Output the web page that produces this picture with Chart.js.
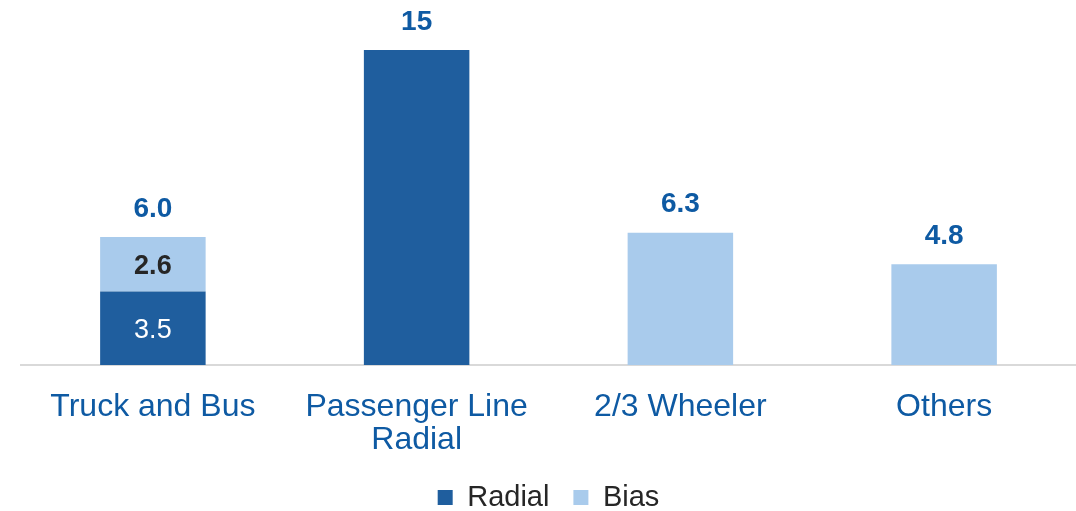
<!DOCTYPE html>
<html>
<head>
<meta charset="utf-8">
<script src="https://cdn.jsdelivr.net/npm/chart.js@4"></script>
<style>
html,body{margin:0;padding:0;background:#fff;}
#wrap{width:1076px;height:511px;position:relative;}
</style>
</head>
<body>
<div id="wrap"><canvas id="c" width="1076" height="511"></canvas></div>
<script>
const categories = ["Truck and Bus", ["Passenger Line", "Radial"], "2/3 Wheeler", "Others"];
const radialValues = [3.5, 15, 0, 0];
const biasValues = [2.6, 0, 6.3, 4.8];
const totalLabels = ["6.0", "15", "6.3", "4.8"];

const DARK = "#1F5E9E";
const LIGHT = "#A9CBEC";
const BLUE_TEXT = "#0E5AA3";
const FONT = "'Liberation Sans', Arial, sans-serif";

const labelPlugin = {
  id: "labelPlugin",
  afterDatasetsDraw(chart) {
    const ctx = chart.ctx;
    const m0 = chart.getDatasetMeta(0);
    const m1 = chart.getDatasetMeta(1);
    ctx.save();
    ctx.textAlign = "center";
    ctx.textBaseline = "middle";
    categories.forEach((c, i) => {
      const r = radialValues[i], b = biasValues[i];
      const e0 = m0.data[i], e1 = m1.data[i];
      const topEl = b > 0 ? e1 : e0;
      ctx.font = "bold 28px " + FONT;
      ctx.fillStyle = BLUE_TEXT;
      ctx.fillText(totalLabels[i], topEl.x, topEl.y - 28);
      if (r > 0 && b > 0) {
        ctx.font = "27px " + FONT;
        ctx.fillStyle = "#ffffff";
        ctx.fillText(r.toFixed(1), e0.x, (e0.y + e0.base) / 2 + 2);
        ctx.font = "bold 27px " + FONT;
        ctx.fillStyle = "#262626";
        ctx.fillText(b.toFixed(1), e1.x, (e1.y + e1.base) / 2 + 2);
      }
    });
    ctx.restore();
  }
};

new Chart(document.getElementById("c"), {
  type: "bar",
  data: {
    labels: categories,
    datasets: [
      { label: "Radial", data: radialValues, backgroundColor: DARK, barPercentage: 0.4, categoryPercentage: 1.0 },
      { label: "Bias", data: biasValues, backgroundColor: LIGHT, barPercentage: 0.4, categoryPercentage: 1.0 }
    ]
  },
  options: {
    responsive: false,
    animation: false,
    layout: { padding: { top: 50, left: 21, right: 0, bottom: -11 } },
    plugins: {
      legend: {
        position: "bottom",
        labels: {
          boxWidth: 15, boxHeight: 15, padding: 24,
          color: "#262626",
          font: { family: FONT, size: 29 }
        }
      },
      tooltip: { enabled: false }
    },
    scales: {
      x: {
        stacked: true,
        grid: { display: false },
        border: { color: "#D9D9D9", width: 2 },
        afterFit(scale) { scale.height = 94; },
        ticks: {
          color: BLUE_TEXT, padding: 17, maxRotation: 0,
          font: { family: FONT, size: 32, lineHeight: 1.05 }
        }
      },
      y: {
        stacked: true, display: false, min: 0, max: 15
      }
    }
  },
  plugins: [labelPlugin]
});
</script>
</body>
</html>
